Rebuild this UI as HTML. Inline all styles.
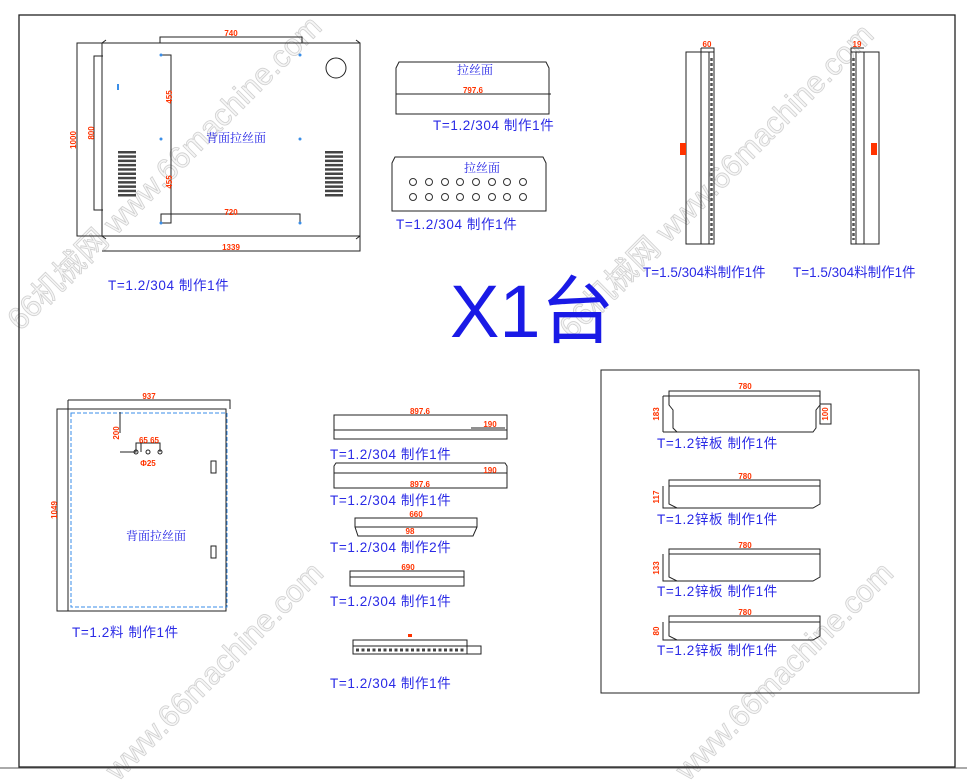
<!DOCTYPE html>
<html><head><meta charset="utf-8"><style>
html,body{margin:0;padding:0;background:#fff;}
svg{display:block;}
.c{font-family:"Liberation Sans","Noto Sans CJK SC",sans-serif;font-size:13.5px;fill:#2a2ae6;letter-spacing:0.6px;}
.r{font-family:"Liberation Sans",sans-serif;font-size:8px;fill:#ff3300;font-weight:bold;}
.b{font-family:"Noto Serif CJK SC","WenQuanYi Zen Hei",serif;font-size:12px;fill:#2a2ae6;}
.wm{font-family:"Liberation Sans","Noto Sans CJK SC",sans-serif;font-size:31px;fill:#f6f6f6;stroke:#d0d0d0;stroke-width:0.8;}
</style></head><body>
<svg width="967" height="782" viewBox="0 0 967 782" xmlns="http://www.w3.org/2000/svg">
<!-- watermarks (behind) -->
<text class="wm" transform="translate(20,332) rotate(-45)">66机械网 www.66machine.com</text>
<text class="wm" transform="translate(118,782) rotate(-45)">www.66machine.com</text>
<text class="wm" transform="translate(572,340) rotate(-45)">66机械网 www.66machine.com</text>
<text class="wm" transform="translate(688,782) rotate(-45)">www.66machine.com</text>
<g fill="none" stroke="#222" stroke-width="1">
<rect x="19" y="15" width="936" height="752" stroke-width="1.3"/>
<line x1="0" y1="768" x2="967" y2="768" stroke="#555"/>
<rect x="601" y="370" width="318" height="323"/>

<rect x="77" y="43" width="283" height="193"/>
<line x1="102" y1="43" x2="102" y2="236"/>
<path d="M102 251 H360 V236"/>
<path d="M160 43 V37 H302 V43"/>
<path d="M103 56 H94 V210 H103"/>
<path d="M161 55 H171 V223 H161"/>
<path d="M161 223 V214 H300 V223"/>
<circle cx="336" cy="68" r="10"/>
<path d="M360 43 l-4 -3 M360 236 l-4 3 M102 236 l4 3 M102 43 l4 -3"/>
</g>
<g fill="#444">
<rect x="118" y="151" width="18" height="2.5"/><rect x="118" y="155.3" width="18" height="2.5"/><rect x="118" y="159.6" width="18" height="2.5"/><rect x="118" y="163.9" width="18" height="2.5"/><rect x="118" y="168.2" width="18" height="2.5"/><rect x="118" y="172.5" width="18" height="2.5"/><rect x="118" y="176.8" width="18" height="2.5"/><rect x="118" y="181.1" width="18" height="2.5"/><rect x="118" y="185.4" width="18" height="2.5"/><rect x="118" y="189.7" width="18" height="2.5"/><rect x="118" y="194" width="18" height="2.5"/>
<rect x="325" y="151" width="18" height="2.5"/><rect x="325" y="155.3" width="18" height="2.5"/><rect x="325" y="159.6" width="18" height="2.5"/><rect x="325" y="163.9" width="18" height="2.5"/><rect x="325" y="168.2" width="18" height="2.5"/><rect x="325" y="172.5" width="18" height="2.5"/><rect x="325" y="176.8" width="18" height="2.5"/><rect x="325" y="181.1" width="18" height="2.5"/><rect x="325" y="185.4" width="18" height="2.5"/><rect x="325" y="189.7" width="18" height="2.5"/><rect x="325" y="194" width="18" height="2.5"/>
</g>
<g fill="#3a8ee8"><circle cx="161" cy="55" r="1.5"/><circle cx="300" cy="55" r="1.5"/><circle cx="161" cy="139" r="1.5"/><circle cx="300" cy="139" r="1.5"/><circle cx="161" cy="223" r="1.5"/><circle cx="300" cy="223" r="1.5"/><rect x="117" y="84" width="2" height="6"/></g>
<text class="r" x="231" y="36" text-anchor="middle">740</text>
<text class="r" x="231" y="250" text-anchor="middle">1339</text>
<text class="r" x="231" y="215" text-anchor="middle">720</text>
<text class="r" transform="translate(76,140) rotate(-90)" text-anchor="middle">1000</text>
<text class="r" transform="translate(94,133) rotate(-90)" text-anchor="middle">800</text>
<text class="r" transform="translate(172,97) rotate(-90)" text-anchor="middle">455</text>
<text class="r" transform="translate(172,182) rotate(-90)" text-anchor="middle">455</text>
<text class="b" x="236" y="142" text-anchor="middle">背面拉丝面</text>
<text class="c" x="108" y="290">T=1.2/304  制作1件</text>

<g fill="none" stroke="#222">
<path d="M399 62 H546 L549 68 V114 H396 V68 Z"/>
<line x1="396" y1="94" x2="551" y2="94"/>
<path d="M395 157 H543 L546 163 V211 H392 V163 Z"/>
<g stroke="#333">
<circle cx="413" cy="182" r="3.5"/><circle cx="429" cy="182" r="3.5"/><circle cx="445" cy="182" r="3.5"/><circle cx="460" cy="182" r="3.5"/><circle cx="476" cy="182" r="3.5"/><circle cx="492" cy="182" r="3.5"/><circle cx="507" cy="182" r="3.5"/><circle cx="523" cy="182" r="3.5"/>
<circle cx="413" cy="197" r="3.5"/><circle cx="429" cy="197" r="3.5"/><circle cx="445" cy="197" r="3.5"/><circle cx="460" cy="197" r="3.5"/><circle cx="476" cy="197" r="3.5"/><circle cx="492" cy="197" r="3.5"/><circle cx="507" cy="197" r="3.5"/><circle cx="523" cy="197" r="3.5"/>
</g></g>
<text class="b" x="475" y="74" text-anchor="middle">拉丝面</text>
<text class="r" x="473" y="93" text-anchor="middle">797.6</text>
<text class="c" x="433" y="130">T=1.2/304  制作1件</text>
<text class="b" x="482" y="172" text-anchor="middle">拉丝面</text>
<text class="c" x="396" y="229">T=1.2/304  制作1件</text>

<g fill="none" stroke="#222">
<rect x="686" y="52" width="28" height="192"/><line x1="701" y1="48" x2="701" y2="244"/><line x1="709" y1="52" x2="709" y2="244"/><path d="M701 48 H714 V52"/>
<line x1="711.5" y1="58" x2="711.5" y2="240" stroke="#555" stroke-width="2.5" stroke-dasharray="3 2"/>
<rect x="851" y="52" width="28" height="192"/><line x1="856" y1="52" x2="856" y2="244"/><line x1="864" y1="52" x2="864" y2="244"/><path d="M851 52 V48 H864"/>
<line x1="853.5" y1="58" x2="853.5" y2="240" stroke="#555" stroke-width="2.5" stroke-dasharray="3 2"/>
</g>
<text class="r" x="707" y="47" text-anchor="middle">60</text>
<text class="r" x="857" y="47" text-anchor="middle">19</text>
<rect x="680" y="143" width="6" height="12" fill="#ff3300"/>
<rect x="871" y="143" width="6" height="12" fill="#ff3300"/>
<text class="c" x="643" y="277" style="letter-spacing:0">T=1.5/304料制作1件</text>
<text class="c" x="793" y="277" style="letter-spacing:0">T=1.5/304料制作1件</text>

<text x="450" y="337" font-family="Liberation Sans,Noto Sans CJK SC,sans-serif" font-size="74" fill="#1a1ae6">X1台</text>

<g fill="none" stroke="#222">
<rect x="57" y="409" width="169" height="202"/>
<line x1="68" y1="400" x2="68" y2="611"/>
<path d="M68 400 H230 V409"/>
<rect x="71" y="413" width="156" height="194" stroke="#3a8ee8" stroke-dasharray="4 2"/>
<path d="M120 433 V412 M120 452 H136 V443 H160 V452 M141 452 V443"/>
<circle cx="136" cy="452" r="2"/><circle cx="148" cy="452" r="2"/><circle cx="160" cy="452" r="2"/>
<rect x="211" y="461" width="5" height="12"/><rect x="211" y="546" width="5" height="12"/>
</g>
<text class="r" x="149" y="399" text-anchor="middle">937</text>
<text class="r" transform="translate(57,510) rotate(-90)" text-anchor="middle">1049</text>
<text class="r" transform="translate(119,433) rotate(-90)" text-anchor="middle">200</text>
<text class="r" x="149" y="443" text-anchor="middle">65 65</text>
<text class="r" x="148" y="466" text-anchor="middle">Φ25</text>
<text class="b" x="156" y="540" text-anchor="middle">背面拉丝面</text>
<text class="c" x="72" y="637">T=1.2料 制作1件</text>

<g fill="none" stroke="#222">
<path d="M334 415 H507 V439 H334 Z"/><line x1="334" y1="430" x2="507" y2="430"/><path d="M471 428 H505"/>
<path d="M334 466 L336 463 H505 L507 466 V488 H334 Z"/><line x1="334" y1="473" x2="507" y2="473"/>
<path d="M355 518 H477 V527 L473 536 H358 L355 527 Z"/><line x1="355" y1="527" x2="477" y2="527"/>
<rect x="350" y="571" width="114" height="15"/><line x1="350" y1="577" x2="464" y2="577"/>
<rect x="353" y="640" width="114" height="14"/><rect x="467" y="646" width="14" height="8"/><line x1="353" y1="646" x2="467" y2="646"/>
<line x1="356" y1="650" x2="465" y2="650" stroke="#444" stroke-width="3" stroke-dasharray="3 2.5"/>
</g>
<text class="r" x="420" y="414" text-anchor="middle">897.6</text>
<text class="r" x="490" y="427" text-anchor="middle">190</text>
<text class="r" x="420" y="487" text-anchor="middle">897.6</text>
<text class="r" x="490" y="473" text-anchor="middle">190</text>
<text class="r" x="416" y="517" text-anchor="middle">660</text>
<text class="r" x="410" y="534" text-anchor="middle">98</text>
<text class="r" x="408" y="570" text-anchor="middle">690</text>
<rect x="408" y="634" width="4" height="3" fill="#ff3300"/>
<text class="c" x="330" y="459">T=1.2/304  制作1件</text>
<text class="c" x="330" y="505">T=1.2/304  制作1件</text>
<text class="c" x="330" y="552">T=1.2/304  制作2件</text>
<text class="c" x="330" y="606">T=1.2/304  制作1件</text>
<text class="c" x="330" y="688">T=1.2/304  制作1件</text>

<g fill="none" stroke="#222">
<path d="M669 396 V391 H820 V396"/><path d="M669 396 H820 V405 L816 410 V428 L813 432 H677 L673 428 V410 L669 405 Z"/><path d="M663 396 H669 M663 432 H677 M663 396 V432"/><rect x="820" y="404" width="11" height="20"/>
<path d="M669 486 V480 H820 V486"/><path d="M669 486 H820 V504 L813 508 H677 L669 504 Z"/><path d="M663 486 V508 H677"/>
<path d="M669 554 V549 H820 V554"/><path d="M669 554 H820 V577 L813 581 H677 L669 577 Z"/><path d="M663 554 V581 H677"/>
<path d="M669 622 V616 H820 V622"/><path d="M669 622 H820 V636 L813 640 H677 L669 636 Z"/><path d="M663 622 V640 H677"/>
</g>
<text class="r" x="745" y="389" text-anchor="middle">780</text>
<text class="r" x="745" y="479" text-anchor="middle">780</text>
<text class="r" x="745" y="548" text-anchor="middle">780</text>
<text class="r" x="745" y="615" text-anchor="middle">780</text>
<text class="r" transform="translate(659,414) rotate(-90)" text-anchor="middle">183</text>
<text class="r" transform="translate(828,414) rotate(-90)" text-anchor="middle">100</text>
<text class="r" transform="translate(659,497) rotate(-90)" text-anchor="middle">117</text>
<text class="r" transform="translate(659,568) rotate(-90)" text-anchor="middle">133</text>
<text class="r" transform="translate(659,631) rotate(-90)" text-anchor="middle">80</text>
<text class="c" x="657" y="448">T=1.2锌板 制作1件</text>
<text class="c" x="657" y="524">T=1.2锌板 制作1件</text>
<text class="c" x="657" y="596">T=1.2锌板 制作1件</text>
<text class="c" x="657" y="655">T=1.2锌板 制作1件</text>
</svg>
</body></html>
